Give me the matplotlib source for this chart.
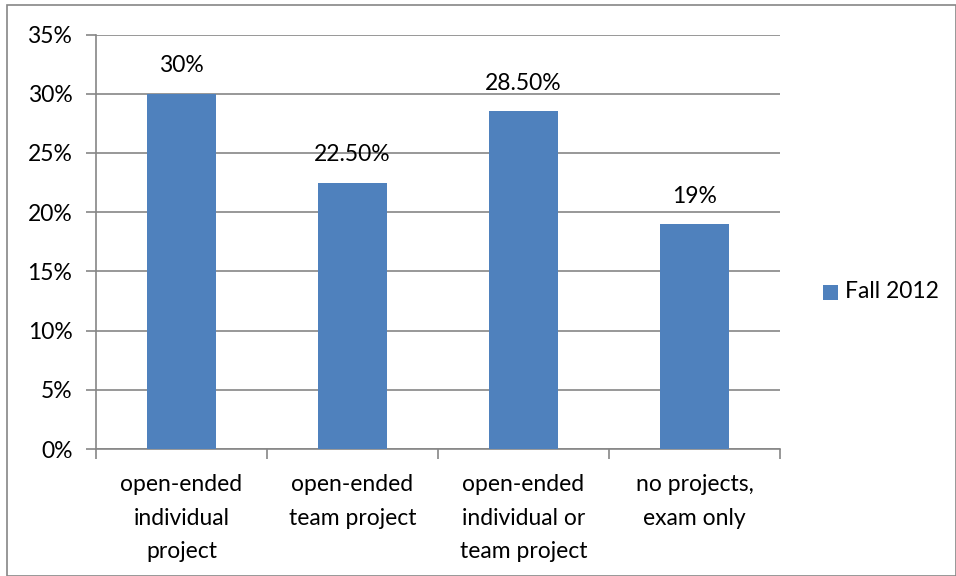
import matplotlib
matplotlib.use("Agg")
import matplotlib.pyplot as plt
from matplotlib.patches import Rectangle
from matplotlib.ticker import FuncFormatter

categories = ["open-ended\nindividual\nproject", "open-ended\nteam project",
              "open-ended\nindividual or\nteam project", "no projects,\nexam only"]
values = [30, 22.5, 28.5, 19]
value_labels = ["30%", "22.50%", "28.50%", "19%"]
series_name = "Fall 2012"
yticks = [0, 5, 10, 15, 20, 25, 30, 35]

plt.rcParams['font.family'] = ['Lato', 'DejaVu Sans']
FS = 16.5
W, H = 956, 576
fig = plt.figure(figsize=(W/100, H/100), dpi=100)
fig.patches.append(Rectangle((7/W, 0.5/H), (W-7.5)/W, (H-5.5)/H, transform=fig.transFigure,
                             fill=False, edgecolor='#868686', linewidth=1.2))
ax = fig.add_axes([96/W, 1-449/H, (780-96)/W, (449-34.5)/H])
bar_color = '#4F81BD'
grid_color = '#868686'
x = list(range(len(categories)))
ax.bar(x, values, width=0.4, color=bar_color, zorder=3)
ax.set_xlim(-0.5, len(categories)-0.5)
ax.set_ylim(0, 35)
ax.set_yticks(yticks)
ax.yaxis.set_major_formatter(FuncFormatter(lambda v, p: f"{int(v)}%"))
ax.grid(axis='y', color=grid_color, linewidth=1.2, zorder=0)
ax.set_axisbelow(True)
for s in ['top', 'right']:
    ax.spines[s].set_visible(False)
for s in ['left', 'bottom']:
    ax.spines[s].set_color(grid_color)
    ax.spines[s].set_linewidth(1.2)
ax.tick_params(axis='y', length=7, color=grid_color, width=1.2, labelsize=FS, pad=10)
ax.set_xticks(x)
ax.set_xticklabels(categories, fontsize=FS, linespacing=1.75)
ax.tick_params(axis='x', length=0, pad=18)
ax.set_xticks([i - 0.5 for i in range(len(categories)+1)], minor=True)
ax.tick_params(axis='x', which='minor', length=7, color=grid_color, width=1.2, direction='out')
for xi, v, lab in zip(x, values, value_labels):
    ax.annotate(lab, (xi, v), xytext=(0, 20), textcoords='offset points',
                ha='center', va='center', fontsize=FS)
fig.patches.append(Rectangle((823/W, 1-299.5/H), 15/W, 15/H, transform=fig.transFigure,
                             facecolor=bar_color, edgecolor='none'))
fig.text(845/W, 1-292/H, series_name, fontsize=FS, va='center', ha='left')
fig.savefig("out.png", dpi=100)
